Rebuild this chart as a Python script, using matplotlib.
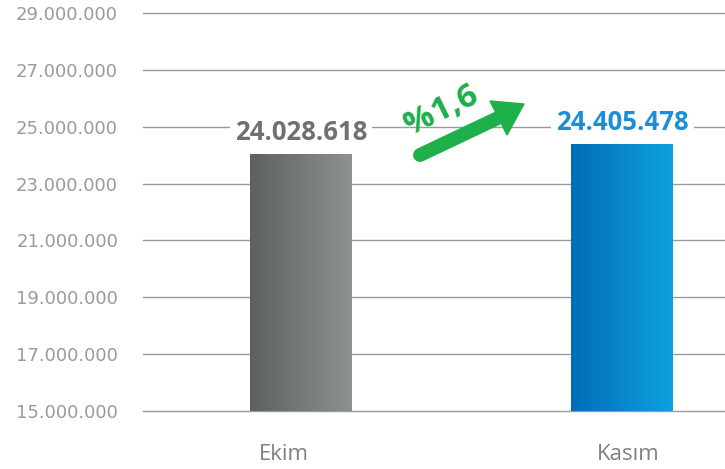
import numpy as np
import matplotlib
matplotlib.use("Agg")
import matplotlib.pyplot as plt
from matplotlib.colors import LinearSegmentedColormap
from matplotlib.lines import Line2D
from matplotlib.patches import Polygon

categories = ["Ekim", "Kasım"]
values = [24028618, 24405478]
value_labels = ["24.028.618", "24.405.478"]
change_label = "%1,6"
yticks = [15000000, 17000000, 19000000, 21000000, 23000000, 25000000, 27000000, 29000000]
ytick_labels = ["15.000.000", "17.000.000", "19.000.000", "21.000.000",
                "23.000.000", "25.000.000", "27.000.000", "29.000.000"]

W, H = 725, 469
fig = plt.figure(figsize=(W / 100, H / 100), dpi=100)
ax = fig.add_axes([143 / W, 58 / H, 582 / W, 398 / H])

ymin, ymax = 15000000, 29000000
ax.set_ylim(ymin, ymax)
ax.set_xlim(-0.491, 1.319)

for yt in yticks:
    ax.axhline(yt, color="#9a9a9a", lw=1.0, zorder=1, clip_on=False)

gradients = [("#5d6162", "#8d9192"), ("#006db6", "#0ea2de")]
label_colors = ["#6e7071", "#1a8fd8"]
bw = 0.317
xs = np.arange(len(categories))
bars = ax.bar(xs, np.array(values) - ymin, bottom=ymin, width=bw, color="none", zorder=3)
grad = np.linspace(0, 1, 256).reshape(1, -1)
for i, (b, (c0, c1)) in enumerate(zip(bars, gradients)):
    cmap = LinearSegmentedColormap.from_list(f"g{i}", [c0, c1])
    x0 = b.get_x()
    im = ax.imshow(grad, cmap=cmap, aspect="auto",
                   extent=[x0, x0 + b.get_width(), ymin, values[i]], zorder=3)
    im.set_clip_path(b)
    ax.annotate(value_labels[i], (xs[i], values[i]), xytext=(0, 10),
                textcoords="offset points", ha="center", va="baseline",
                fontsize=18.5, fontweight="bold", color=label_colors[i],
                family=["Open Sans", "DejaVu Sans"], zorder=4,
                bbox=dict(boxstyle="square,pad=0.2", fc="white", ec="none"))

ax.set_xlim(-0.491, 1.319)
ax.set_ylim(ymin, ymax)

ax.set_yticks(yticks)
ax.set_yticklabels(ytick_labels, fontsize=13, color="#9a9a9a", family=["DejaVu Sans"])
label_shift = [-0.053, 0.019]
ax.set_xticks(xs + np.array(label_shift))
ax.set_xticklabels(categories, fontsize=16, color="#808080", family=["Open Sans", "DejaVu Sans"])
ax.tick_params(axis="y", length=0, pad=18)
ax.tick_params(axis="x", length=0, pad=24)
for s in ax.spines.values():
    s.set_visible(False)

def fp(x, y):
    return (x / W, 1 - y / H)

green = "#1db04b"
t0 = fp(420, 155)
t1 = fp(500, 117)
fig.add_artist(Line2D([t0[0], t1[0]], [t0[1], t1[1]], transform=fig.transFigure,
                      lw=10, color=green, solid_capstyle="round"))
head = Polygon([fp(524, 104), fp(490, 101), fp(507, 135)], closed=True,
               transform=fig.transFigure, color=green)
fig.add_artist(head)
fig.text(*fp(441, 111), change_label, rotation=26, ha="center", va="center",
         fontsize=24, fontweight="bold", color=green, family=["Open Sans", "DejaVu Sans"])

fig.savefig("out.png", dpi=100)
